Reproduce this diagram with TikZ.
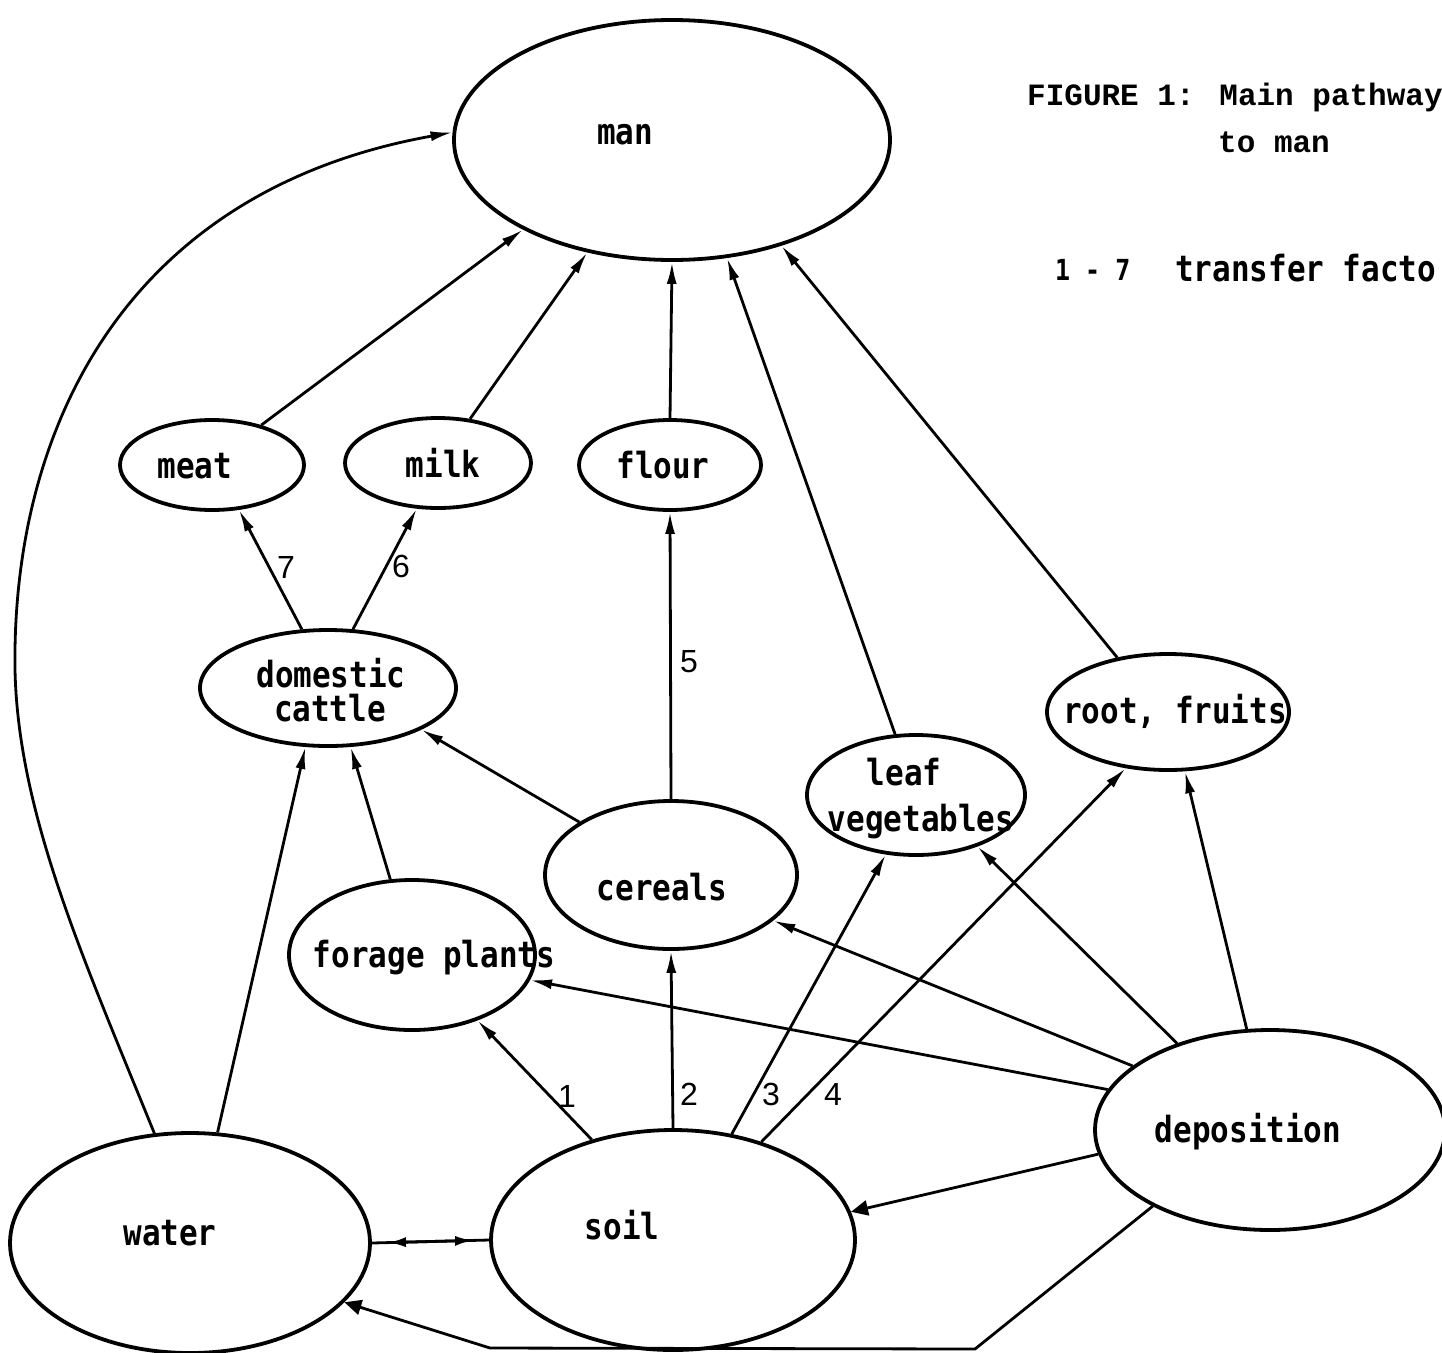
\documentclass[tikz,border=0pt]{standalone}
\usepackage{fontspec}
\newfontfamily\lblbold[FakeStretch=0.86]{DejaVu Sans Mono Bold}
\newfontfamily\titlefont{Liberation Mono}
\newfontfamily\numfont{Liberation Sans}
\usetikzlibrary{shapes.geometric,arrows.meta}
\begin{document}
\begin{tikzpicture}[x=1pt,y=-1pt,
  ell/.style={draw,ellipse,line width=3.8pt,inner sep=0pt},
  conn/.style={line width=2.8pt},
  arr/.style={conn,-{Latex[length=22pt,width=10pt]}},
  tarr/.style={conn,-{Triangle[length=17pt,width=15pt]}},
  lbl/.style={font=\lblbold\fontsize{36}{40}\selectfont,anchor=base,inner sep=0pt},
  num/.style={font=\numfont\fontsize{32}{34}\selectfont,anchor=base,inner sep=0pt},
]
\useasboundingbox (0,0) rectangle (1442,1352);

% ellipses
\node[ell,minimum width=436,minimum height=240] (man) at (672,140) {};
\node[ell,minimum width=184,minimum height=90] (meat) at (212,465) {};
\node[ell,minimum width=186,minimum height=90] (milk) at (438,463) {};
\node[ell,minimum width=182,minimum height=90] (flour) at (670,465) {};
\node[ell,minimum width=256,minimum height=116] (cattle) at (328,688) {};
\node[ell,minimum width=242,minimum height=116] (root) at (1168,712) {};
\node[ell,minimum width=218,minimum height=120] (leaf) at (916,795) {};
\node[ell,minimum width=252,minimum height=148] (cereals) at (671,875) {};
\node[ell,minimum width=246,minimum height=150] (forage) at (412,955) {};
\node[ell,minimum width=350,minimum height=200] (deposition) at (1270,1130) {};
\node[ell,minimum width=364,minimum height=220] (soil) at (673,1240) {};
\node[ell,minimum width=360,minimum height=220] (water) at (190,1243) {};

% labels
\node[lbl] (tman) at (625,144) {man};
\node[lbl] (tmeat) at (195,478) {meat};
\node[lbl] (tmilk) at (443,477) {milk};
\node[lbl] (tflour) at (663,478) {flour};
\node[lbl] (tcattle1) at (331,687) {domestic};
\node[lbl] (tcattle2) at (330,721) {cattle};
\node[lbl] (troot) at (1175,723) {root, fruits};
\node[lbl] (tleaf1) at (904,785) {leaf};
\node[lbl] (tleaf2) at (921,831) {vegetables};
\node[lbl] (tcereals) at (662,900) {cereals};
\node[lbl] (tforage) at (434,967) {forage plants};
\node[lbl] (tdep) at (1248,1142) {deposition};
\node[lbl] (tsoil) at (622,1239) {soil};
\node[lbl] (twater) at (170,1245) {water};

% title texts
\node[font=\titlefont\bfseries\fontsize{31}{36}\selectfont,anchor=base west,inner sep=0pt] (title1) at (1027,105) {FIGURE 1: Main pathway};
\node[font=\titlefont\bfseries\fontsize{31}{36}\selectfont,anchor=base west,inner sep=0pt] (title2) at (1218,152) {to man};
\node[font=\lblbold\fontsize{29}{32}\selectfont,anchor=base west,inner sep=0pt] (key1) at (1055,280) {1 - 7};
\node[font=\lblbold\fontsize{36}{40}\selectfont,anchor=base west,inner sep=0pt] (key2) at (1175,281) {transfer facto};

% connectors to man
\draw[arr] (meat.39) -- (man.211);
\draw[arr] (milk.54) -- (man.233);
\draw[arr] (flour.north) -- (man.south);
\draw[arr] (leaf.109) -- (man.295);
\draw[arr] (root.133) -- (man.316);
\draw[arr] (water.108) .. controls (80,950) and (12,800) .. (15,650)
      .. controls (18,420) and (130,190) .. (man.178);

% cattle products
\draw[arr] (cattle.114) -- (meat.301);
\draw[arr] (cattle.67) -- (milk.245);
\draw[arr] (cereals.north) -- (flour.south);
\draw[arr] (cereals.150) -- (cattle.336);
\draw[arr] (forage.106) -- (cattle.291);
\draw[arr] (water.76) -- (cattle.249);

% soil
\draw[arr] (soil.129) -- (forage.315);
\draw[arr] (soil.north) -- (cereals.south);
\draw[arr] (soil.61) -- (leaf.243);
\draw[arr] (soil.48) -- (root.233);

% deposition
\draw[arr] (deposition.166) -- (forage.348);
\draw[arr] (deposition.155) -- (cereals.336);
\draw[arr] (deposition.137) -- (leaf.320);
\draw[arr] (deposition.103) -- (root.286);
\draw[tarr] (deposition.188) -- (soil.9);
\coordinate (b1) at (975,1349);
\coordinate (b2) at (490,1348);
\draw[tarr] (deposition.213) -- (b1) -- (b2) -- (water.339);

% water <-> soil
\draw[conn] (water.east) -- (soil.west);
\draw[conn,{Latex[length=18pt,width=10pt]}-{Latex[length=18pt,width=10pt]},shorten <=16pt,shorten >=16pt] (water.east) -- (soil.west);

% transfer factor numbers
\node[num] (n7) at (286,578) {7};
\node[num] (n6) at (401,577) {6};
\node[num] (n5) at (689,672) {5};
\node[num] (n1) at (567,1107) {1};
\node[num] (n2) at (689,1105) {2};
\node[num] (n3) at (771,1105) {3};
\node[num] (n4) at (833,1105) {4};
\end{tikzpicture}
\end{document}
